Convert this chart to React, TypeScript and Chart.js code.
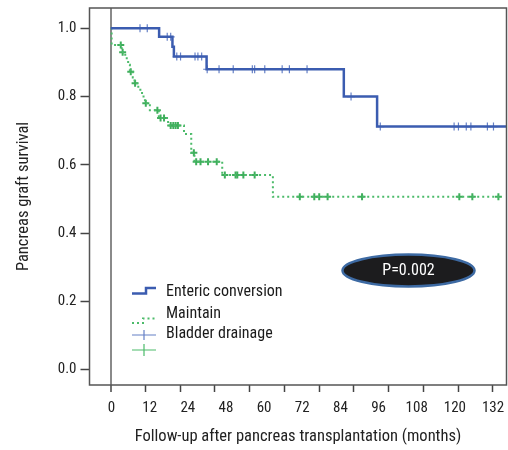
import React, { useEffect, useRef } from 'react';
import { Chart, registerables } from 'chart.js';

Chart.register(...registerables);

const FONT = "'Roboto Condensed', 'DejaVu Sans Condensed', sans-serif";

// Axis ticks
const X_TICK_MONTHS = [0, 12, 24, 36, 48, 60, 72, 84, 96, 108, 120, 132];
const X_TICK_LABELS = ['0', '12', '24', '48', '60', '72', '84', '96', '108', '120', '132'];
const Y_TICKS = [0, 0.2, 0.4, 0.6, 0.8, 1.0];

// Enteric conversion (Kaplan-Meier step points: time in months, survival after step)
const ENTERIC_TIMES = [0, 16.7, 21.3, 21.8, 33.1, 80.5, 92.0, 137];
const ENTERIC_SURV = [1.0, 0.975, 0.946, 0.917, 0.88, 0.8, 0.712, 0.712];
const ENTERIC_CENSOR = [
  10.1, 12.6, 19.5, 20.7, 22.8, 24.1, 29.1, 30.1, 31.4, 33.3, 37.4, 42.3, 48.9, 49.7,
  53.2, 59.2, 61.7, 67.8, 83.0, 93.1, 118.6, 120.1, 122.8, 124.4, 130.1, 132.2,
];

// Maintain
const MAINTAIN_TIMES = [
  0, 0.3, 3.8, 5.0, 6.0, 6.6, 7.6, 8.2, 9.5, 10.8, 11.8, 13.5, 16.6, 19.8, 25.3, 27.8, 28.9,
  38.5, 56.0, 135,
];
const MAINTAIN_SURV = [
  1.0, 0.951, 0.93, 0.912, 0.893, 0.873, 0.856, 0.839, 0.82, 0.8, 0.78, 0.76, 0.737, 0.715,
  0.69, 0.635, 0.609, 0.57, 0.506, 0.506,
];
const MAINTAIN_CENSOR = [
  3.45, 4.1, 6.9, 8.4, 12.1, 16.1, 17.2, 18.4, 20.7, 21.6, 22.4, 23.2, 28.7, 29.5, 31.0,
  33.6, 36.6, 39.4, 43.1, 43.7, 45.8, 49.7, 65.3, 70.3, 72.0, 74.9, 86.8, 120.4, 124.9, 133.9,
];

const LEGEND_LABELS = ['Enteric conversion', 'Maintain', 'Bladder drainage'];
const P_TEXT = 'P=0.002';

const BLUE = '#3b5cb0';
const BLUE_MARK = '#6580c6';
const GREEN = '#4cbb6a';
const GREEN_MARK = '#3fae5c';

function survAt(times: number[], surv: number[], t: number): number {
  let s = surv[0];
  for (let i = 0; i < times.length; i++) {
    if (times[i] <= t) s = surv[i];
  }
  return s;
}

const decorPlugin = {
  id: 'decor',
  afterDatasetsDraw(chart: any) {
    const { ctx, chartArea: a } = chart;
    ctx.save();
    // frame
    ctx.strokeStyle = '#555';
    ctx.lineWidth = 1.5;
    ctx.setLineDash([]);
    ctx.strokeRect(a.left, a.top, a.right - a.left, a.bottom - a.top);

    // legend
    const lx = a.left + 42.5;
    const top = a.top;
    ctx.lineWidth = 2.5;
    ctx.strokeStyle = BLUE;
    ctx.beginPath();
    ctx.moveTo(lx, top + 285.5);
    ctx.lineTo(lx + 14, top + 285.5);
    ctx.lineTo(lx + 14, top + 280);
    ctx.lineTo(lx + 24, top + 280);
    ctx.stroke();

    ctx.lineWidth = 2;
    ctx.strokeStyle = GREEN;
    ctx.setLineDash([2, 3]);
    ctx.beginPath();
    ctx.moveTo(lx, top + 315);
    ctx.lineTo(lx + 11, top + 315);
    ctx.lineTo(lx + 11, top + 310.5);
    ctx.lineTo(lx + 24, top + 310.5);
    ctx.stroke();
    ctx.setLineDash([]);

    ctx.lineWidth = 1.2;
    ctx.strokeStyle = BLUE_MARK;
    ctx.beginPath();
    ctx.moveTo(lx, top + 327);
    ctx.lineTo(lx + 24, top + 327);
    ctx.moveTo(lx + 12, top + 322);
    ctx.lineTo(lx + 12, top + 332);
    ctx.stroke();

    ctx.strokeStyle = GREEN;
    ctx.beginPath();
    ctx.moveTo(lx, top + 342);
    ctx.lineTo(lx + 24, top + 342);
    ctx.moveTo(lx + 12, top + 336);
    ctx.lineTo(lx + 12, top + 348);
    ctx.stroke();

    ctx.fillStyle = '#1a1a1a';
    ctx.font = `16px ${FONT}`;
    ctx.textAlign = 'left';
    ctx.textBaseline = 'middle';
    ctx.fillText(LEGEND_LABELS[0], lx + 34, top + 283.5);
    ctx.fillText(LEGEND_LABELS[1], lx + 34, top + 305.5);
    ctx.fillText(LEGEND_LABELS[2], lx + 34, top + 326);

    // p-value ellipse
    const cx = a.left + 319;
    const cy = top + 262.5;
    ctx.beginPath();
    ctx.ellipse(cx, cy, 66, 16, 0, 0, Math.PI * 2);
    ctx.fillStyle = '#1c1c1e';
    ctx.fill();
    ctx.lineWidth = 2.5;
    ctx.strokeStyle = '#3d6aa3';
    ctx.stroke();
    ctx.fillStyle = '#ffffff';
    ctx.textAlign = 'center';
    ctx.font = `16px ${FONT}`;
    ctx.fillText(P_TEXT, cx, cy + 0.5);
    ctx.restore();
  },
};

export default function App() {
  const canvasRef = useRef<HTMLCanvasElement | null>(null);

  useEffect(() => {
    document.body.style.margin = '0';
    const canvas = canvasRef.current;
    if (!canvas) return;

    const textColor = '#222';
    const chart = new Chart(canvas, {
      type: 'line',
      data: {
        datasets: [
          {
            label: LEGEND_LABELS[0],
            data: ENTERIC_TIMES.map((t, i) => ({ x: t, y: ENTERIC_SURV[i] })),
            stepped: 'before',
            borderColor: BLUE,
            borderWidth: 2.5,
            pointRadius: 0,
            fill: false,
            xAxisID: 'x',
            yAxisID: 'y',
          },
          {
            label: LEGEND_LABELS[1],
            data: MAINTAIN_TIMES.map((t, i) => ({ x: t, y: MAINTAIN_SURV[i] })),
            stepped: 'before',
            borderColor: GREEN,
            borderWidth: 2,
            borderDash: [2, 3],
            pointRadius: 0,
            fill: false,
            xAxisID: 'x',
            yAxisID: 'y',
          },
          {
            label: 'Enteric censored',
            data: ENTERIC_CENSOR.map((t) => ({ x: t, y: survAt(ENTERIC_TIMES, ENTERIC_SURV, t) })),
            showLine: false,
            pointStyle: 'cross',
            pointRadius: 4,
            pointBorderWidth: 1.2,
            pointBorderColor: BLUE_MARK,
            borderColor: BLUE_MARK,
            xAxisID: 'x',
            yAxisID: 'y',
          },
          {
            label: 'Maintain censored',
            data: MAINTAIN_CENSOR.map((t) => ({ x: t, y: survAt(MAINTAIN_TIMES, MAINTAIN_SURV, t) })),
            showLine: false,
            pointStyle: 'cross',
            pointRadius: 3.5,
            pointBorderWidth: 2,
            pointBorderColor: GREEN_MARK,
            borderColor: GREEN_MARK,
            xAxisID: 'x',
            yAxisID: 'y',
          },
        ],
      },
      options: {
        animation: false,
        responsive: true,
        maintainAspectRatio: false,
        layout: { autoPadding: false, padding: { top: 8, right: 1.5, left: 0, bottom: 0 } },
        plugins: {
          legend: { display: false },
          tooltip: { enabled: false },
        },
        scales: {
          x: {
            type: 'linear',
            position: 'bottom',
            min: -7.35,
            max: 136.7,
            weight: 0,
            afterBuildTicks: (ax: any) => {
              ax.ticks = X_TICK_MONTHS.map((v) => ({ value: v }));
            },
            afterFit: (ax: any) => {
              ax.height = 7;
              ax.paddingLeft = 0;
              ax.paddingRight = 0;
            },
            ticks: { display: false },
            grid: {
              display: true,
              drawOnChartArea: true,
              drawTicks: true,
              tickLength: 7,
              color: (c: any) => (c.tick && c.tick.value === 0 ? '#8a8a8a' : 'rgba(0,0,0,0)'),
              lineWidth: (c: any) => (c.tick && c.tick.value === 0 ? 2 : 1),
              tickColor: '#444',
              tickWidth: 1.5,
            },
            border: { display: false },
          },
          x2: {
            type: 'linear',
            position: 'bottom',
            min: -0.576,
            max: 10.353,
            weight: 1,
            afterBuildTicks: (ax: any) => {
              ax.ticks = X_TICK_LABELS.map((_, i) => ({ value: i }));
            },
            afterFit: (ax: any) => {
              ax.height = 58;
              ax.paddingLeft = 0;
              ax.paddingRight = 0;
            },
            ticks: {
              callback: (v: any) => X_TICK_LABELS[Math.round(Number(v))],
              font: { family: FONT, size: 15 },
              color: textColor,
              padding: 7,
              autoSkip: false,
              maxRotation: 0,
            },
            grid: { display: false, drawTicks: false },
            border: { display: false },
            title: {
              display: true,
              text: 'Follow-up after pancreas transplantation (months)',
              font: { family: FONT, size: 16.5 },
              color: textColor,
              padding: { top: 0, bottom: 3 },
            },
          },
          y: {
            type: 'linear',
            min: -0.0454,
            max: 1.0595,
            afterBuildTicks: (ax: any) => {
              ax.ticks = Y_TICKS.map((v) => ({ value: v }));
            },
            afterFit: (ax: any) => {
              ax.width = 89.5;
              ax.paddingTop = 0;
              ax.paddingBottom = 0;
            },
            ticks: {
              callback: (v: any) => Number(v).toFixed(1),
              font: { family: FONT, size: 15 },
              color: textColor,
              padding: 4,
            },
            grid: {
              drawOnChartArea: false,
              drawTicks: true,
              tickLength: 9,
              tickColor: '#444',
              tickWidth: 1.5,
            },
            border: { display: false },
            title: {
              display: true,
              text: 'Pancreas graft survival',
              font: { family: FONT, size: 16.5 },
              color: textColor,
              padding: { top: 14, bottom: 0 },
            },
          },
        },
      },
      plugins: [decorPlugin],
    } as any);

    return () => {
      chart.destroy();
    };
  }, []);

  return (
    <div style={{ position: 'relative', width: '508px', height: '450px' }}>
      <canvas ref={canvasRef} />
    </div>
  );
}
